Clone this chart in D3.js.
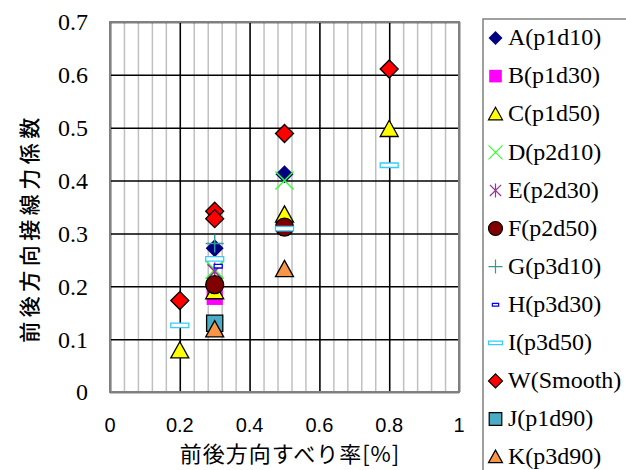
<!DOCTYPE html>
<html>
<head>
<meta charset="utf-8">
<script src="https://cdn.jsdelivr.net/npm/d3@7"></script>
<style>
body { margin: 0; background: #fff; }
</style>
</head>
<body>
<svg width="626" height="470"></svg>
<script>
// data: [slip ratio %, tangential force coefficient]
var dataA = [[0.3, 0.272], [0.5, 0.412]];
var dataB = [[0.3, 0.180]];
var dataC = [[0.2, 0.078], [0.3, 0.190], [0.5, 0.335], [0.8, 0.497]];
var dataD = [[0.3, 0.231], [0.5, 0.400]];
var dataE = [[0.3, 0.228]];
var dataF = [[0.3, 0.203], [0.5, 0.312]];
var dataG = [[0.3, 0.281]];
var dataH = [[0.31, 0.238]];
var dataI = [[0.2, 0.126], [0.3, 0.252], [0.5, 0.309], [0.8, 0.429]];
var dataW = [[0.2, 0.173], [0.3, 0.342], [0.3, 0.328], [0.5, 0.489], [0.8, 0.611]];
var dataJ = [[0.3, 0.130]];
var dataK = [[0.3, 0.118], [0.5, 0.232]];

var seriesNames = ["A(p1d10)", "B(p1d30)", "C(p1d50)", "D(p2d10)", "E(p2d30)", "F(p2d50)",
                   "G(p3d10)", "H(p3d30)", "I(p3d50)", "W(Smooth)", "J(p1d90)", "K(p3d90)"];
var seriesData = [dataA, dataB, dataC, dataD, dataE, dataF, dataG, dataH, dataI, dataW, dataJ, dataK];

var xTicks = [0, 0.2, 0.4, 0.6, 0.8, 1];
var yTicks = [0, 0.1, 0.2, 0.3, 0.4, 0.5, 0.6, 0.7];

var styles = [
	{shape: "diamond", fill: "#000080", stroke: "none"},
	{shape: "square", fill: "#ff00ff", stroke: "none"},
	{shape: "triangle", fill: "#ffff00", stroke: "#000"},
	{shape: "cross", fill: "none", stroke: "#33ff33"},
	{shape: "star", fill: "none", stroke: "#993399"},
	{shape: "circle", fill: "#800000", stroke: "#000"},
	{shape: "plus", fill: "none", stroke: "#339999"},
	{shape: "smallrect", fill: "#fff", stroke: "#0000ff"},
	{shape: "dash", fill: "#fff", stroke: "#33ccff"},
	{shape: "diamond", fill: "#ff0000", stroke: "#000"},
	{shape: "square", fill: "#4bacc6", stroke: "#000"},
	{shape: "triangle", fill: "#f79646", stroke: "#000"}
];

var svg = d3.select("svg");
var x = d3.scaleLinear().domain([0, 1]).range([110, 459]);
var y = d3.scaleLinear().domain([0, 0.7]).range([392, 22]);

function markerPath(shape, s) {
	var h = s / 2;
	var p = d3.path();
	if (shape == "diamond") {
		p.moveTo(0, -h); p.lineTo(h, 0); p.lineTo(0, h); p.lineTo(-h, 0); p.closePath();
	} else if (shape == "square") {
		p.rect(-h * 0.9, -h * 0.9, s * 0.9, s * 0.9);
	} else if (shape == "triangle") {
		p.moveTo(0, -h); p.lineTo(h, h * 0.8); p.lineTo(-h, h * 0.8); p.closePath();
	} else if (shape == "circle") {
		p.arc(0, 0, h, 0, 2 * Math.PI);
	} else if (shape == "cross") {
		p.moveTo(-h, -h); p.lineTo(h, h); p.moveTo(h, -h); p.lineTo(-h, h);
	} else if (shape == "star") {
		p.moveTo(-h * 0.8, -h * 0.8); p.lineTo(h * 0.8, h * 0.8);
		p.moveTo(h * 0.8, -h * 0.8); p.lineTo(-h * 0.8, h * 0.8);
		p.moveTo(0, -h); p.lineTo(0, h);
	} else if (shape == "plus") {
		p.moveTo(-h, 0); p.lineTo(h, 0); p.moveTo(0, -h); p.lineTo(0, h);
	} else if (shape == "smallrect") {
		p.rect(-h * 0.45, -h * 0.2, s * 0.45, s * 0.2);
	} else if (shape == "dash") {
		p.rect(-h, -h * 0.25, s, s * 0.25);
	}
	return p.toString();
}

// minor vertical grid
svg.append("g")
	.attr("transform", "translate(0,392)")
	.call(d3.axisBottom(x).tickValues(d3.range(0, 25).map(function(i) { return i * 0.04; })).tickSize(-370).tickFormat(""))
	.call(function(g) { g.select(".domain").remove(); })
	.selectAll("line").attr("stroke", "#c0c0c0").attr("stroke-width", 1.5);

// major grid
svg.append("g")
	.attr("transform", "translate(0,392)")
	.call(d3.axisBottom(x).tickValues(xTicks).tickSize(-370).tickFormat(""))
	.call(function(g) { g.select(".domain").remove(); })
	.selectAll("line").attr("stroke", "#000").attr("stroke-width", 1.5);
svg.append("g")
	.attr("transform", "translate(110,0)")
	.call(d3.axisLeft(y).tickValues(yTicks).tickSize(-349).tickFormat(""))
	.call(function(g) { g.select(".domain").remove(); })
	.selectAll("line").attr("stroke", "#000").attr("stroke-width", 1.5);

svg.append("rect")
	.attr("x", 110).attr("y", 22).attr("width", 349).attr("height", 370)
	.attr("fill", "none").attr("stroke", "#808080").attr("stroke-width", 2);

// tick labels
svg.selectAll(".ylab").data(yTicks).enter().append("text")
	.attr("x", 88).attr("y", function(d) { return y(d); })
	.attr("dy", "0.35em")
	.attr("text-anchor", "end")
	.style("font-family", "Liberation Serif")
	.style("font-size", "24px")
	.text(function(d) { return d; });

svg.selectAll(".xlab").data(xTicks).enter().append("text")
	.attr("x", function(d) { return x(d); }).attr("y", 432)
	.attr("text-anchor", "middle")
	.style("font-family", "Liberation Sans")
	.style("font-size", "20px")
	.text(function(d) { return d; });

// axis titles
svg.append("text")
	.attr("x", 290).attr("y", 454)
	.attr("dy", "0.35em")
	.attr("text-anchor", "middle")
	.style("font-family", "Noto Sans CJK JP")
	.style("font-size", "22px")
	.style("letter-spacing", "1px")
	.text("前後方向すべり率[%]");

svg.append("text")
	.attr("transform", "translate(30,228) rotate(-90)")
	.attr("dy", "0.35em")
	.attr("text-anchor", "middle")
	.style("font-family", "Noto Sans CJK JP")
	.style("font-weight", 500)
	.style("font-size", "21px")
	.style("letter-spacing", "4.5px")
	.text("前後方向接線力係数");

// points
seriesData.forEach(function(data, i) {
	var st = styles[i];
	svg.append("g").selectAll("path").data(data).enter().append("path")
		.attr("transform", function(d) { return "translate(" + x(d[0]) + "," + y(d[1]) + ")"; })
		.attr("d", markerPath(st.shape, 18))
		.attr("fill", st.fill)
		.attr("stroke", st.stroke)
		.attr("stroke-width", st.fill == "none" ? 1.5 : 1.3);
});

// legend
svg.append("path")
	.attr("d", "M626,19H483V470")
	.attr("fill", "none").attr("stroke", "#808080").attr("stroke-width", 1.5);

var legend = svg.selectAll(".leg").data(seriesNames).enter().append("g")
	.attr("transform", function(d, i) { return "translate(0," + (38 + i * 38.1) + ")"; });
legend.append("path")
	.attr("transform", "translate(495.5,0)")
	.attr("d", function(d, i) { return markerPath(styles[i].shape, 14); })
	.attr("fill", function(d, i) { return styles[i].fill; })
	.attr("stroke", function(d, i) { return styles[i].stroke; })
	.attr("stroke-width", 1.2);
legend.append("text")
	.attr("x", 508).attr("dy", "0.3em")
	.style("font-family", "Liberation Serif")
	.style("font-size", "24px")
	.text(function(d) { return d; });
</script>
</body>
</html>
